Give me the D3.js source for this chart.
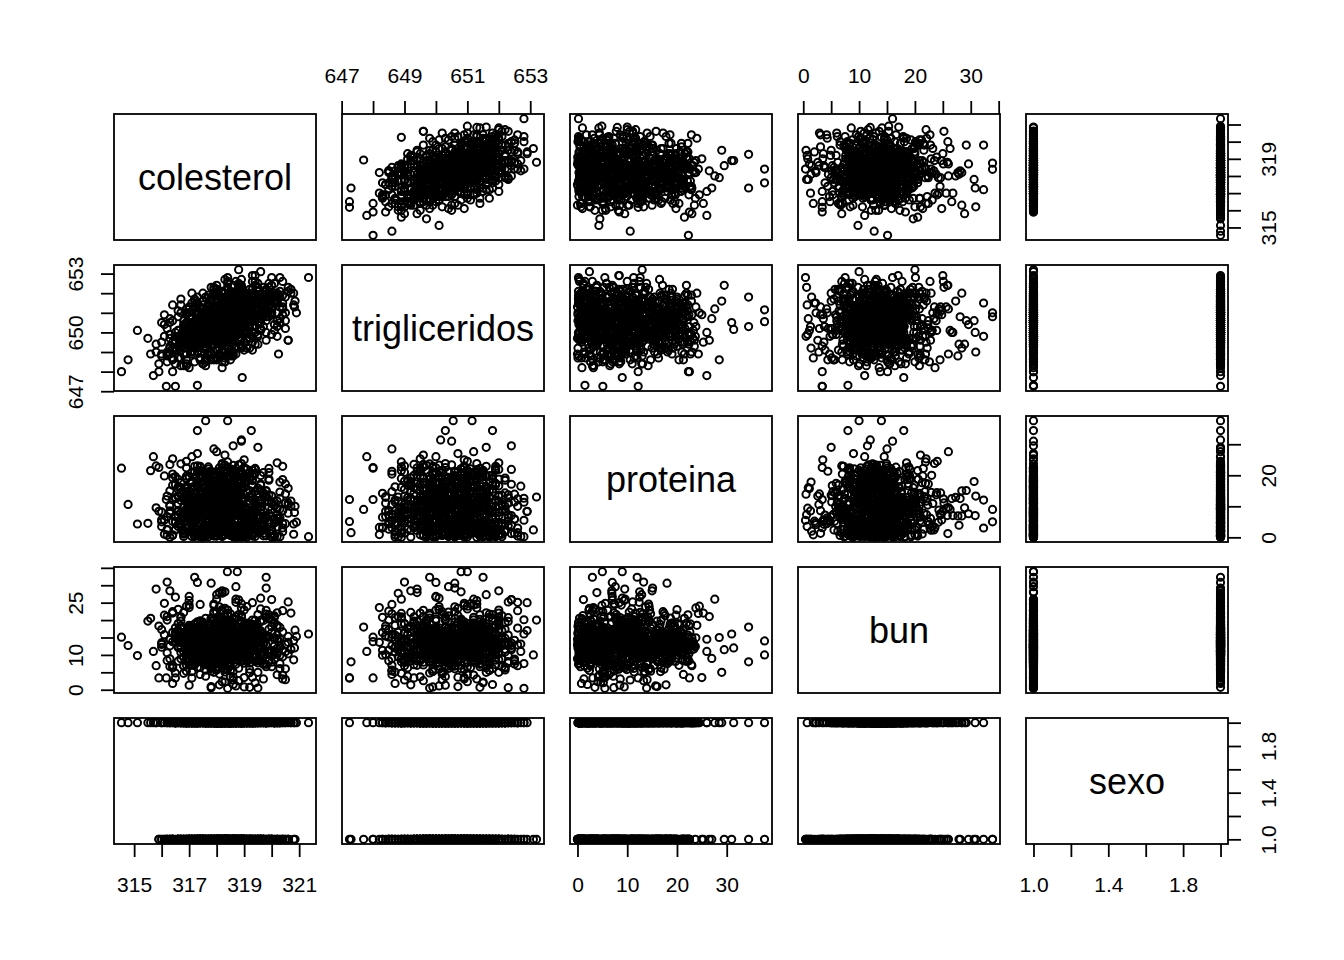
<!DOCTYPE html>
<html>
<head>
<meta charset="utf-8">
<script src="https://cdn.jsdelivr.net/npm/d3@7"></script>
<style>
  body { margin: 0; background: #fff; }
  svg text { font-family: "Liberation Sans", Arial, sans-serif; fill: #000; }
</style>
</head>
<body>
<svg id="chart" width="1344" height="960"></svg>
<script>
// one value per patient, same order in every array
const colesterol = [
  318.4, 317.6, 319.1, 318.0, 316.9, 318.8, 319.5, 317.2, 318.3, 320.1, 317.9, 318.6, 316.5, 319.3, 318.1, 317.4, 318.9, 319.8, 317.0, 318.5,
  317.8, 318.2, 319.6, 316.2, 318.7, 317.5, 320.4, 318.0, 317.1, 319.0, 318.4, 316.8, 319.4, 317.7, 318.9, 320.0, 317.3, 318.6, 319.2, 316.0,
  318.1, 319.7, 317.6, 318.3, 316.6, 318.9, 317.9, 320.6, 318.5, 317.2, 319.1, 318.0, 316.4, 319.9, 318.2, 317.5, 318.7, 319.4, 317.0, 318.4,
  317.3, 318.8, 319.3, 316.7, 318.0, 320.2, 317.8, 318.6, 315.9, 319.6, 318.3, 317.1, 318.9, 320.8, 317.6, 318.5, 316.3, 319.0, 318.1, 317.4,
  318.6, 317.0, 319.5, 318.2, 316.9, 318.7, 320.3, 317.7, 318.4, 319.2, 316.1, 318.0, 317.5, 319.8, 318.8, 317.2, 318.3, 320.5, 317.9, 318.9,
  317.4, 319.0, 318.1, 316.8, 319.7, 318.5, 317.3, 318.2, 320.0, 316.5, 318.7, 317.8, 319.3, 318.4, 317.1, 320.7, 318.0, 316.7, 319.5, 318.6,
  318.3, 317.6, 318.9, 316.2, 319.4, 317.9, 318.1, 320.2, 317.0, 318.6, 319.1, 316.9, 318.5, 317.5, 319.9, 318.2, 316.4, 318.8, 317.7, 319.6,
  318.0, 316.6, 319.2, 318.4, 317.3, 320.4, 318.7, 317.8, 315.8, 318.9, 317.5, 319.3, 318.1, 316.3, 320.1, 318.5, 317.2, 319.0, 318.3, 317.9,
  317.1, 318.6, 319.8, 317.4, 318.2, 316.7, 319.5, 318.0, 320.6, 317.6, 318.4, 316.0, 318.8, 319.2, 317.0, 318.3, 320.3, 317.7, 318.9, 316.8,
  318.5, 317.3, 319.0, 318.1, 316.5, 319.7, 318.7, 317.5, 320.0, 318.2, 316.9, 318.9, 317.8, 319.4, 318.0, 317.2, 320.9, 318.4, 316.3, 319.1,
  318.3, 317.0, 318.6, 319.5, 317.6, 318.1, 316.6, 319.9, 318.8, 317.4, 318.0, 320.4, 317.8, 319.2, 316.2, 318.5, 317.1, 319.6, 318.2, 317.9,
  318.7, 316.8, 319.3, 318.0, 317.5, 320.1, 318.4, 316.4, 319.0, 317.2, 318.9, 318.1, 317.7, 320.5, 318.3, 316.9, 319.4, 317.3, 318.6, 319.8,
  317.5, 318.2, 319.6, 316.7, 318.8, 317.9, 318.5, 320.2, 317.0, 319.1, 318.0, 316.1, 318.7, 317.6, 319.3, 318.4, 317.3, 320.7, 318.1, 316.6,
  318.9, 317.4, 318.3, 319.5, 316.9, 318.6, 317.8, 319.0, 318.2, 316.3, 319.8, 317.2, 318.5, 320.3, 317.6, 318.0, 319.2, 316.5, 318.7, 317.9,
  318.1, 319.4, 317.1, 318.7, 316.4, 320.0, 318.3, 317.5, 319.1, 318.9, 316.8, 318.0, 319.7, 317.3, 318.5, 320.6, 317.8, 318.2, 316.2, 319.3,
  317.7, 318.6, 316.7, 319.0, 318.1, 317.4, 319.6, 318.4, 316.0, 318.8, 317.0, 320.2, 318.3, 317.6, 319.2, 318.0, 316.5, 319.9, 317.9, 318.5,
  318.2, 317.3, 319.3, 316.6, 318.9, 317.8, 318.4, 320.1, 317.1, 318.7, 319.5, 316.9, 318.0, 317.5, 319.0, 318.6, 317.2, 320.4, 318.3, 316.4,
  318.8, 317.6, 319.1, 318.2, 316.3, 319.7, 318.5, 317.0, 320.0, 318.0, 316.8, 319.4, 317.7, 318.3, 320.8, 317.3, 318.9, 316.6, 319.2, 318.1,
  317.4, 318.6, 316.9, 319.0, 318.3, 317.8, 319.5, 318.1, 316.1, 318.7, 317.5, 320.3, 318.4, 317.1, 319.3, 318.0, 316.7, 319.8, 318.2, 317.9,
  318.5, 317.2, 319.2, 318.0, 316.5, 319.6, 318.8, 317.7, 320.5, 318.3, 316.9, 318.9, 317.4, 319.1, 318.1, 317.0, 320.1, 318.6, 316.2, 319.4,
  318.0, 317.6, 318.7, 319.9, 317.3, 318.4, 316.8, 319.3, 318.2, 317.9, 320.6, 318.6, 317.1, 318.9, 316.4, 319.0, 318.3, 317.5, 319.7, 318.1,
  318.5, 317.0, 319.4, 318.0, 316.7, 318.8, 317.7, 320.2, 318.3, 316.3, 319.1, 317.4, 318.6, 319.6, 317.8, 318.2, 316.0, 319.0, 317.2, 318.4,
  314.54, 314.78, 315.12, 315.5, 316.17, 316.5, 317.3, 315.7, 315.9, 321.34, 318.8, 319.3, 319.6, 320.25, 318.93, 317.6, 318.4, 317.3, 319.26, 318.9,
  318.9, 318.39, 318.75, 317.2, 317.3, 319.8, 316.3, 317.8, 320.85, 320.83, 320.5, 316.4, 317.1, 317.3, 318.0, 315.6, 315.8, 319.5, 318.6, 317.9,
  319.0, 316.9, 318.3, 320.2,
  318.2, 317.7, 318.9, 318.4, 317.3, 318.6, 319.2, 317.9, 318.1, 319.6, 317.5, 318.3, 317.0, 318.8, 318.5, 317.8, 319.0, 318.0, 317.4, 318.7,
  318.3, 317.6, 319.4, 316.9, 318.9, 318.1, 319.9, 317.8, 317.2, 318.5, 318.7, 317.1, 319.1, 318.0, 318.4, 319.5, 317.6, 318.2, 318.8, 316.6,
  317.9, 319.3, 318.0, 318.6, 317.4, 318.2, 317.7, 320.1, 318.4, 317.3, 318.8, 317.9, 316.8, 319.4, 318.5, 317.5, 318.1, 319.0, 317.8, 318.3,
  317.6, 318.7, 319.1, 317.1, 318.2, 319.7, 317.9, 318.5, 316.5, 319.2, 318.0, 317.4, 318.6, 320.3, 317.7, 318.3, 316.9, 318.9, 318.1, 317.6,
  318.5, 317.3, 319.3, 318.0, 317.2, 318.6, 319.8, 317.8, 318.2, 318.9, 316.7, 318.1, 317.6, 319.5, 318.7, 317.4, 318.4, 320.0, 317.9, 318.8,
  317.7, 318.9, 318.3, 317.0, 319.3, 318.4, 317.5, 318.1, 319.6, 316.9, 318.6, 317.8, 319.0, 318.2, 317.3, 320.2, 318.0, 317.1, 319.2, 318.5,
  318.1, 317.5, 318.7, 316.7, 319.1, 318.0, 318.2, 319.8, 317.4, 318.5, 318.9, 317.2, 318.4, 317.7, 319.4, 318.3, 316.8, 318.6, 317.9, 319.3,
  318.2, 317.0, 319.0, 318.6, 317.6, 320.0, 318.5, 317.9, 316.4, 318.7, 317.7, 319.1, 318.3, 316.9, 319.7, 318.4, 317.4, 318.8, 318.0, 318.1,
  317.4, 318.5, 319.5, 317.6, 318.3, 317.1, 319.2, 318.2, 320.1, 317.8, 318.6, 316.6, 318.7, 319.0, 317.3, 318.1, 319.9, 317.9, 318.8, 317.2,
  318.4, 317.5, 318.9, 318.2, 316.9, 319.4, 318.6, 317.7, 319.7, 318.0, 317.1, 318.7, 317.9, 319.1, 318.2, 317.4, 320.4, 318.3, 316.8, 318.9,
  318.0, 317.3, 318.5, 319.2, 317.8, 318.3, 317.0, 319.6, 318.7, 317.6, 318.1, 320.0, 317.9, 319.0, 316.7, 318.4, 317.4, 319.3, 318.2, 318.0,
  318.6, 317.2, 319.0, 318.1, 317.7, 319.8, 318.3, 316.9, 318.8, 317.5, 318.7, 318.2, 317.8, 320.1, 318.4, 317.1, 319.2, 317.6, 318.5, 319.5,
  317.8, 318.3, 319.3, 317.0, 318.7, 318.0, 318.4, 319.9, 317.3, 318.9, 318.1, 316.6, 318.6, 317.7, 319.1, 318.5, 317.5, 320.3, 318.2, 317.0,
  318.7, 317.6, 318.2, 319.2, 317.2, 318.5, 317.9, 318.8, 318.3, 316.8, 319.5, 317.4, 318.4, 319.9, 317.8, 318.1, 319.0, 317.0, 318.6, 318.0,
  318.2, 319.1, 317.4, 318.6, 316.9, 319.7, 318.4, 317.7, 318.9, 318.7, 317.2, 318.1, 319.4, 317.5, 318.5, 320.2, 317.9, 318.3, 316.7, 319.0,
  317.9, 318.5, 317.1, 318.8, 318.2, 317.6, 319.3, 318.3, 316.5, 318.7, 317.3, 319.8, 318.4, 317.8, 318.9, 318.1, 317.0, 319.6, 318.0, 318.6,
  318.3, 317.5, 319.0, 317.1, 318.8, 317.9, 318.5, 319.7, 317.4, 318.6, 319.2, 317.2, 318.1, 317.7, 318.9, 318.4, 317.3, 320.0, 318.2, 316.9,
  318.6, 317.8, 318.9, 318.3, 316.8, 319.4, 318.5, 317.3, 319.8, 318.1, 317.1, 319.1, 317.9, 318.2, 320.4, 317.6, 318.7, 317.0, 318.9, 318.3,
  317.6, 318.4, 317.2, 318.9, 318.2, 317.9, 319.2, 318.0, 316.7, 318.5, 317.7, 319.9, 318.3, 317.4, 319.0, 318.1, 317.0, 319.5, 318.4, 317.8,
  318.4, 317.3, 319.0, 318.1, 316.9, 319.3, 318.7, 317.9, 320.1, 318.2, 317.1, 318.6, 317.6, 318.9, 318.0, 317.2, 319.6, 318.5, 316.6, 319.2
];

const trigliceridos = [
  650.8, 650.1, 651.3, 649.6, 649.9, 651.0, 651.8, 650.4, 649.8, 651.6, 650.9, 650.2, 649.1, 650.7, 651.2, 649.4, 650.5, 652.1, 650.0, 651.5,
  649.3, 650.6, 650.9, 648.8, 651.7, 650.7, 651.2, 651.1, 649.0, 652.0, 650.0, 650.3, 651.5, 648.9, 649.7, 652.4, 651.0, 651.9, 649.9, 649.5,
  651.4, 650.3, 649.6, 650.9, 650.8, 649.2, 651.6, 652.3, 649.1, 651.3, 650.6, 648.7, 648.6, 651.1, 652.0, 650.5, 650.1, 652.6, 649.3, 650.0,
  650.2, 652.2, 649.8, 649.6, 650.4, 650.6, 651.8, 649.5, 648.4, 651.9, 651.6, 648.9, 651.1, 651.4, 650.0, 650.7, 649.3, 649.9, 648.8, 651.2,
  650.9, 651.0, 652.5, 649.0, 648.3, 650.4, 652.8, 650.8, 651.8, 650.2, 649.8, 651.5, 649.7, 650.0, 649.6, 648.5, 650.7, 651.0, 649.4, 652.3,
  651.3, 651.4, 648.9, 650.6, 650.8, 649.7, 649.0, 652.1, 651.0, 650.0, 651.3, 648.6, 652.0, 650.1, 650.5, 652.0, 651.7, 648.7, 649.8, 650.6,
  649.5, 649.9, 651.7, 650.2, 649.4, 652.2, 650.2, 650.3, 648.2, 651.4, 651.9, 649.6, 648.9, 651.4, 651.3, 651.0, 648.0, 652.4, 648.8, 651.5,
  650.5, 648.7, 650.4, 652.3, 651.1, 651.5, 649.3, 650.6, 649.4, 651.0, 648.4, 652.6, 649.2, 649.7, 650.4, 651.2, 649.2, 649.5, 651.6, 652.0,
  650.0, 649.6, 651.6, 650.8, 648.5, 651.0, 650.5, 651.9, 652.1, 649.1, 652.2, 648.9, 651.8, 649.2, 651.2, 650.9, 651.8, 650.3, 652.7, 650.4,
  649.0, 651.5, 649.1, 651.4, 649.5, 650.9, 650.0, 652.0, 649.9, 648.8, 648.6, 651.3, 650.7, 652.9, 650.3, 649.8, 651.0, 648.9, 650.5, 650.7,
  652.0, 649.5, 651.1, 649.9, 648.6, 649.9, 650.1, 652.5, 652.3, 648.7, 651.3, 650.9, 651.7, 651.2, 648.5, 649.9, 650.8, 650.1, 649.3, 649.7,
  651.9, 649.4, 651.5, 648.6, 651.6, 652.0, 650.3, 649.1, 650.0, 651.7, 649.4, 650.6, 649.0, 651.8, 651.5, 651.2, 652.4, 650.9, 648.8, 650.6,
  649.7, 652.1, 650.7, 651.4, 650.2, 651.2, 648.8, 651.0, 649.4, 651.1, 649.1, 650.4, 652.6, 648.3, 650.3, 650.1, 651.4, 652.2, 648.9, 649.8,
  649.3, 650.4, 651.8, 652.1, 648.4, 650.0, 652.3, 649.5, 650.6, 650.7, 649.6, 651.6, 652.1, 650.5, 648.7, 651.6, 651.1, 649.8, 651.6, 650.2,
  650.8, 650.0, 652.0, 649.2, 651.4, 652.8, 648.5, 649.4, 651.7, 652.4, 649.2, 649.7, 651.3, 650.6, 652.0, 649.6, 651.2, 648.2, 649.0, 651.8,
  651.3, 648.9, 651.7, 650.8, 649.6, 648.6, 650.2, 652.5, 650.5, 651.1, 650.3, 649.8, 650.5, 651.8, 649.7, 652.2, 649.2, 651.9, 648.7, 650.3,
  649.1, 651.8, 649.5, 650.1, 652.1, 649.0, 651.4, 650.1, 651.5, 648.9, 652.3, 651.0, 650.8, 648.4, 650.4, 649.9, 649.7, 652.6, 650.9, 648.7,
  651.5, 651.1, 649.2, 649.6, 649.9, 652.3, 648.6, 649.8, 651.2, 652.4, 648.9, 650.3, 651.9, 650.8, 652.0, 650.9, 649.3, 651.1, 651.4, 650.0,
  648.7, 650.7, 650.9, 651.3, 652.7, 650.6, 649.4, 648.8, 650.9, 652.1, 651.6, 650.7, 649.5, 649.3, 652.2, 650.4, 648.3, 650.8, 651.4, 651.9,
  650.1, 649.7, 652.2, 650.5, 648.4, 651.0, 651.7, 651.4, 650.6, 649.0, 650.5, 652.2, 648.6, 649.7, 651.9, 651.3, 652.5, 649.4, 648.9, 650.3,
  651.7, 648.5, 649.8, 651.7, 650.9, 652.6, 648.3, 649.1, 650.3, 652.3, 649.6, 651.8, 649.6, 650.9, 650.6, 652.0, 648.7, 650.2, 651.0, 649.4,
  650.6, 650.8, 650.8, 652.2, 649.3, 652.5, 651.1, 651.9, 648.5, 648.9, 650.1, 650.3, 649.0, 650.5, 651.6, 651.0, 648.8, 651.4, 649.5, 652.8,
  648.0, 648.6, 650.1, 649.7, 647.25, 647.25, 647.3, 647.8, 648.0, 652.8, 653.2, 652.9, 653.1, 648.9, 647.7, 650.55, 651.15, 650.3, 651.8, 650.15,
  650.5, 650.8, 651.0, 649.8, 650.0, 651.5, 649.2, 650.6, 651.6, 651.3, 650.2, 649.5, 650.0, 650.7, 651.2, 648.9, 649.0, 651.6, 652.4, 648.6,
  650.9, 651.0, 649.6, 652.0,
  650.6, 649.9, 651.2, 651.0, 649.6, 650.4, 651.5, 650.5, 649.9, 651.3, 650.6, 650.1, 649.3, 651.4, 650.9, 649.8, 650.7, 651.1, 650.3, 650.0,
  650.3, 650.8, 651.6, 649.4, 650.2, 651.3, 652.0, 649.6, 650.1, 651.7, 649.9, 649.0, 651.0, 650.0, 650.7, 651.2, 649.3, 651.6, 650.5, 649.7,
  650.9, 650.6, 649.5, 651.1, 650.0, 650.4, 651.2, 651.8, 649.8, 649.2, 651.5, 650.2, 648.9, 651.9, 650.3, 650.7, 651.0, 650.1, 649.4, 650.8,
  650.1, 651.0, 650.5, 649.5, 650.9, 651.4, 649.7, 650.2, 649.1, 651.7, 650.4, 649.8, 651.2, 652.1, 650.6, 649.9, 649.6, 651.3, 650.7, 649.2,
  650.8, 650.3, 651.1, 649.7, 649.0, 651.3, 652.2, 650.4, 650.9, 650.5, 649.3, 650.0, 650.6, 651.6, 649.8, 649.6, 651.2, 650.9, 651.3, 651.0,
  650.6, 650.4, 651.5, 649.8, 651.9, 650.0, 650.1, 650.7, 651.4, 648.9, 650.9, 649.7, 651.2, 650.3, 649.5, 651.5, 650.8, 650.2, 650.7, 651.8,
  650.2, 650.9, 650.5, 649.1, 651.4, 650.6, 649.7, 651.7, 649.9, 651.0, 650.4, 650.3, 651.3, 649.4, 650.8, 650.1, 650.0, 651.6, 650.6, 652.0,
  651.2, 649.6, 650.3, 650.8, 650.4, 651.0, 651.9, 649.8, 649.2, 650.6, 651.1, 651.4, 649.6, 649.9, 651.7, 650.0, 649.5, 652.1, 650.9, 650.2,
  649.7, 650.8, 651.3, 650.6, 650.0, 649.4, 650.9, 651.6, 651.5, 650.2, 649.7, 649.3, 650.7, 651.8, 650.4, 651.0, 652.3, 649.9, 651.1, 650.5,
  650.9, 650.1, 650.6, 649.5, 650.2, 651.5, 651.3, 649.9, 651.0, 650.7, 649.8, 650.3, 651.2, 650.0, 651.6, 650.5, 651.9, 649.6, 649.9, 651.8,
  651.2, 649.9, 650.2, 651.0, 650.6, 649.7, 650.0, 651.8, 650.8, 649.5, 650.5, 651.3, 651.1, 650.3, 649.6, 651.4, 650.6, 650.9, 650.1, 649.8,
  650.7, 650.4, 651.4, 650.9, 649.5, 651.6, 649.9, 650.1, 651.2, 650.8, 650.3, 649.6, 650.6, 651.5, 651.0, 649.3, 651.7, 650.0, 650.2, 651.1,
  650.4, 651.1, 650.7, 650.3, 650.0, 649.9, 651.5, 651.4, 649.6, 651.0, 650.7, 649.8, 649.9, 650.9, 652.0, 650.6, 649.5, 651.3, 651.0, 650.0,
  650.1, 650.5, 650.8, 651.7, 649.8, 651.3, 650.9, 650.4, 650.2, 650.1, 651.5, 649.6, 651.1, 650.8, 650.3, 650.6, 651.9, 649.5, 650.7, 650.4,
  649.9, 650.9, 650.6, 651.2, 649.7, 651.4, 650.1, 650.5, 652.0, 650.3, 649.4, 651.0, 650.6, 650.7, 651.3, 651.6, 649.8, 650.2, 649.8, 651.1,
  650.6, 649.8, 650.3, 651.5, 650.9, 650.1, 651.0, 649.7, 649.6, 651.3, 650.6, 651.2, 650.4, 649.9, 650.5, 651.1, 650.0, 651.7, 650.8, 650.3,
  651.0, 650.4, 650.0, 650.7, 651.3, 649.7, 650.2, 651.4, 650.6, 651.6, 650.8, 649.5, 650.7, 651.0, 650.1, 649.9, 650.3, 651.9, 650.5, 649.8,
  650.3, 651.1, 651.6, 649.9, 650.2, 650.8, 651.4, 649.6, 651.8, 650.5, 650.0, 651.2, 649.8, 651.0, 651.3, 650.7, 650.4, 649.7, 651.5, 650.9,
  650.8, 649.9, 649.8, 651.0, 651.4, 650.6, 650.9, 650.1, 649.5, 651.2, 650.4, 651.3, 649.9, 650.3, 651.6, 650.2, 650.5, 651.1, 650.0, 650.7,
  650.5, 650.2, 651.3, 649.8, 650.0, 651.0, 650.6, 651.2, 651.7, 650.9, 649.6, 650.7, 650.5, 651.5, 650.1, 649.9, 651.4, 650.8, 649.7, 650.4
];

const proteina = [
  6.2, 11.4, 3.8, 0.4, 14.7, 8.1, 2.6, 19.3, 7.5, 10.2, 4.9, 0.9, 12.8, 5.6, 16.4, 9.3, 1.7, 13.5, 7.0, 21.6,
  3.1, 8.8, 15.2, 6.7, 0.2, 11.9, 4.4, 9.6, 18.1, 2.3, 7.9, 13.1, 5.2, 22.7, 10.6, 1.2, 6.4, 16.9, 8.3, 3.5,
  12.3, 4.7, 0.6, 9.9, 7.2, 17.5, 2.9, 11.1, 5.8, 14.2, 0.1, 8.6, 20.4, 3.3, 6.9, 10.8, 15.7, 1.5, 9.1, 5.0,
  7.7, 2.0, 13.8, 6.0, 10.4, 0.3, 18.8, 4.2, 8.4, 12.0, 3.6, 16.1, 7.3, 1.0, 11.6, 5.4, 23.5, 9.4, 2.7, 14.9,
  0.8, 9.7, 5.9, 15.5, 3.0, 7.6, 12.6, 1.9, 10.0, 6.6, 19.8, 4.0, 8.9, 0.5, 13.3, 7.1, 2.4, 17.2, 11.3, 5.3,
  10.9, 4.5, 8.0, 1.4, 14.4, 6.1, 21.0, 3.7, 9.0, 12.5, 0.0, 7.4, 16.6, 5.1, 2.2, 11.7, 8.7, 4.6, 13.9, 6.8,
  2.8, 13.0, 7.8, 0.7, 10.3, 18.4, 5.5, 9.2, 3.2, 15.0, 6.3, 11.5, 1.3, 8.2, 20.9, 4.1, 12.2, 7.0, 0.2, 9.8,
  5.7, 16.3, 3.4, 11.0, 7.9, 1.8, 14.1, 6.5, 9.5, 2.5, 12.9, 0.4, 17.8, 8.5, 4.8, 10.7, 6.2, 22.1, 3.9, 13.6,
  9.1, 0.9, 6.6, 12.4, 4.3, 8.0, 15.9, 2.1, 10.5, 7.2, 19.1, 5.0, 1.1, 11.8, 8.8, 3.6, 14.6, 6.0, 0.3, 9.9,
  4.6, 11.2, 7.5, 2.9, 17.0, 5.8, 9.4, 0.6, 13.4, 6.9, 3.1, 10.1, 16.0, 8.3, 1.6, 12.7, 4.9, 24.3, 7.7, 2.0,
  13.2, 6.4, 1.2, 9.6, 5.2, 15.3, 3.5, 11.4, 7.1, 0.1, 18.6, 8.6, 4.4, 10.9, 2.6, 14.0, 6.7, 9.0, 20.0, 3.8,
  8.1, 2.2, 12.1, 5.5, 0.5, 10.2, 7.4, 16.8, 3.0, 9.3, 6.0, 13.7, 1.4, 11.1, 4.7, 8.9, 21.9, 2.8, 7.6, 15.1,
  0.0, 10.6, 4.0, 14.5, 7.8, 2.4, 11.7, 6.3, 19.5, 5.3, 9.7, 1.0, 12.4, 3.3, 8.4, 17.4, 0.7, 10.0, 6.5, 4.2,
  11.9, 5.6, 8.7, 3.7, 13.1, 0.2, 7.3, 16.2, 2.0, 10.4, 6.1, 22.9, 4.5, 9.1, 1.7, 12.9, 7.9, 5.0, 15.6, 3.2,
  6.8, 14.8, 2.5, 9.5, 0.6, 11.3, 5.1, 8.2, 18.0, 3.9, 12.6, 7.0, 1.3, 10.7, 4.8, 15.8, 8.0, 0.9, 13.3, 6.2,
  2.7, 9.0, 17.6, 4.1, 11.6, 7.5, 1.9, 13.9, 5.7, 20.6, 8.5, 3.4, 10.3, 0.4, 6.6, 14.3, 2.3, 9.8, 12.0, 5.4,
  10.5, 3.6, 7.2, 15.4, 1.1, 8.8, 12.3, 4.6, 0.3, 9.6, 6.4, 18.9, 2.9, 11.0, 5.9, 16.7, 7.7, 3.0, 13.5, 0.8,
  7.4, 12.8, 0.1, 6.0, 10.1, 3.8, 14.7, 8.1, 2.2, 17.1, 5.2, 9.3, 1.5, 12.5, 4.3, 23.0, 6.9, 10.8, 3.5, 8.6,
  4.0, 0.7, 11.5, 7.6, 16.5, 2.6, 9.2, 13.0, 5.6, 1.0, 19.7, 6.3, 10.4, 3.1, 8.3, 0.5, 14.2, 7.0, 11.8, 4.9,
  9.7, 5.3, 2.1, 13.6, 6.7, 10.9, 0.2, 15.2, 4.4, 8.0, 12.2, 1.8, 21.3, 7.1, 3.7, 9.4, 5.8, 17.9, 2.4, 11.2,
  1.6, 8.4, 14.1, 4.7, 0.6, 10.0, 6.5, 18.3, 3.2, 12.7, 7.8, 2.0, 9.9, 15.9, 5.1, 0.9, 11.4, 6.1, 13.8, 3.9,
  12.6, 7.0, 3.3, 9.1, 16.0, 1.2, 5.9, 11.7, 8.7, 0.0, 14.4, 4.1, 10.6, 6.8, 2.7, 20.2, 8.2, 0.4, 13.0, 5.5,
  22.3, 10.6, 4.3, 4.5, 12.2, 5.1, 1.5, 26.0, 22.5, 0.2, 13.0, 8.4, 2.4, 6.0, 9.0, 37.6, 37.6, 34.4, 34.4, 31.4,
  31.0, 9.0, 5.0, 12.0, 7.0, 3.0, 15.0, 18.0, 10.0, 8.0, 14.0, 25.3, 26.0, 27.0, 27.6, 21.5, 23.0, 29.0, 29.5, 28.5,
  25.0, 24.5, 26.5, 24.0,
  5.4, 17.8, 2.7, 21.3, 12.1, 4.0, 19.6, 1.2, 10.5, 15.1, 14.3, 23.3, 7.9, 0.5, 11.2, 18.7, 9.1, 2.0, 13.0, 20.8,
  16.2, 3.6, 11.8, 22.4, 1.8, 9.4, 18.8, 15.1, 7.0, 2.4, 20.3, 5.2, 0.8, 12.7, 17.6, 3.9, 9.9, 16.4, 23.4, 8.7,
  2.1, 19.7, 6.9, 14.3, 13.6, 0.3, 21.0, 5.9, 11.5, 17.0, 7.4, 17.2, 1.5, 22.2, 6.2, 12.4, 18.7, 0.9, 10.1, 15.7,
  11.0, 20.0, 1.0, 8.4, 16.6, 14.0, 3.4, 21.6, 2.6, 12.9, 18.1, 4.1, 10.8, 0.2, 19.9, 5.5, 15.7, 23.8, 6.5, 16.6,
  7.5, 12.5, 18.6, 0.6, 9.7, 20.0, 2.3, 11.3, 16.1, 18.5, 5.3, 22.4, 13.8, 7.2, 3.5, 19.0, 6.7, 0.1, 14.3, 21.2,
  3.2, 16.5, 14.7, 5.8, 21.6, 1.1, 17.8, 4.5, 12.0, 19.0, 0.7, 6.3, 16.0, 23.8, 11.6, 5.1, 18.3, 13.4, 3.7, 20.0,
  9.5, 2.5, 19.4, 11.9, 4.9, 17.8, 0.4, 13.1, 22.9, 3.1, 10.4, 16.6, 1.9, 15.4, 20.6, 9.8, 2.2, 12.3, 18.3, 0.9,
  16.1, 13.3, 3.0, 20.0, 1.3, 10.9, 17.4, 7.4, 19.2, 2.7, 22.1, 4.8, 11.7, 15.6, 0.5, 14.5, 21.6, 8.6, 10.2, 18.9,
  1.7, 17.1, 10.0, 21.0, 12.6, 6.8, 18.9, 9.5, 0.2, 15.9, 23.2, 8.3, 3.3, 19.0, 7.7, 1.0, 13.7, 20.6, 16.3, 9.2,
  12.2, 19.4, 8.9, 0.8, 16.2, 10.7, 21.8, 14.1, 5.5, 17.9, 1.6, 11.4, 20.0, 2.4, 9.6, 17.8, 22.9, 8.2, 0.3, 15.5,
  4.7, 18.3, 1.9, 13.2, 21.3, 3.4, 11.1, 16.8, 0.6, 19.7, 16.6, 2.6, 10.3, 22.5, 4.1, 12.8, 17.8, 1.2, 20.0, 15.0,
  18.4, 0.4, 6.7, 10.8, 21.1, 14.9, 5.3, 19.7, 2.0, 17.2, 12.0, 23.5, 0.9, 11.5, 16.4, 3.7, 8.1, 20.8, 15.6, 1.5,
  10.1, 16.0, 3.5, 19.6, 13.9, 1.8, 17.5, 22.2, 11.8, 0.1, 9.4, 18.7, 15.3, 2.9, 21.9, 10.4, 3.0, 17.8, 12.5, 14.8,
  2.3, 11.6, 19.0, 15.1, 0.7, 20.9, 4.3, 13.5, 16.6, 8.2, 1.4, 22.6, 18.9, 7.6, 18.0, 5.4, 0.5, 12.1, 21.2, 9.0,
  17.8, 3.2, 12.4, 20.1, 9.2, 2.5, 14.6, 18.9, 8.0, 1.1, 21.2, 16.8, 0.3, 11.3, 19.0, 7.3, 16.9, 3.6, 23.7, 2.0,
  15.6, 10.9, 1.6, 18.5, 22.4, 12.7, 7.1, 0.8, 19.6, 3.3, 16.4, 13.0, 2.7, 21.1, 17.9, 4.7, 11.2, 19.9, 8.3, 15.6,
  9.8, 21.0, 17.4, 2.1, 11.4, 15.9, 0.6, 20.9, 14.2, 3.9, 18.7, 10.5, 1.3, 17.0, 12.3, 22.5, 9.1, 0.2, 19.3, 8.0,
  3.8, 18.1, 13.6, 16.3, 1.0, 22.0, 4.8, 17.7, 2.4, 11.9, 20.8, 9.3, 17.4, 3.0, 18.6, 6.0, 0.9, 12.6, 21.2, 10.8,
  11.1, 16.5, 2.8, 19.4, 15.2, 0.4, 13.3, 21.2, 4.0, 10.3, 1.7, 18.4, 16.1, 15.0, 3.4, 20.9, 5.7, 11.8, 2.2, 17.5,
  16.9, 1.2, 19.6, 4.6, 12.9, 21.6, 3.1, 10.7, 0.7, 18.8, 15.4, 14.4, 2.5, 20.3, 11.0, 0.3, 17.2, 22.1, 13.1, 5.9
];

const bun = [
  13.2, 9.1, 18.6, 10.7, 5.3, 16.4, 21.6, 12.4, 7.9, 15.0, 24.2, 10.0, 17.8, 3.6, 13.8, 19.6, 11.8, 6.6, 26.8, 14.3,
  9.9, 15.8, 12.6, 21.0, 7.3, 14.0, 4.2, 17.2, 11.1, 22.9, 8.6, 15.3, 2.0, 18.9, 12.1, 25.9, 10.4, 16.1, 5.9, 13.5,
  20.2, 10.9, 14.6, 5.8, 17.0, 8.3, 12.9, 25.2, 15.9, 9.4, 13.7, 20.7, 7.0, 15.2, 28.4, 11.3, 1.1, 17.7, 12.5, 8.8,
  14.8, 6.2, 16.8, 12.1, 22.3, 10.2, 13.1, 3.7, 18.3, 10.6, 15.5, 8.0, 24.7, 14.1, 9.2, 19.3, 12.6, 0.8, 16.5, 9.6,
  11.9, 17.9, 8.4, 14.2, 11.3, 29.6, 7.5, 15.9, 13.4, 4.9, 21.4, 10.3, 17.5, 12.8, 2.6, 15.1, 23.4, 10.9, 16.7, 8.1,
  17.2, 9.8, 13.6, 6.9, 19.9, 12.2, 16.2, 8.9, 11.0, 26.6, 14.5, 5.4, 18.8, 9.7, 13.0, 22.0, 7.4, 15.7, 0.5, 12.7,
  11.5, 15.0, 20.8, 8.4, 13.2, 17.4, 4.5, 11.9, 23.6, 10.1, 15.6, 7.1, 14.0, 18.6, 10.6, 2.3, 13.8, 25.8, 12.4, 16.9,
  8.7, 14.1, 12.0, 19.6, 6.4, 16.6, 10.8, 15.2, 28.9, 9.5, 17.5, 12.9, 1.4, 14.5, 21.2, 7.9, 13.4, 11.3, 18.1, 5.0,
  15.8, 12.5, 7.3, 14.9, 22.6, 10.7, 17.2, 8.5, 13.6, 3.9, 19.2, 12.2, 16.3, 10.2, 24.3, 14.1, 6.1, 17.8, 11.0, 14.3,
  13.0, 18.9, 10.5, 12.3, 16.0, 7.7, 20.3, 14.7, 11.2, 27.7, 9.0, 13.6, 0.9, 17.0, 12.6, 9.9, 15.3, 21.9, 6.7, 15.5,
  10.4, 15.1, 17.9, 11.8, 5.6, 13.3, 23.1, 8.2, 15.7, 12.0, 18.6, 3.1, 14.4, 9.8, 20.0, 13.1, 7.0, 26.3, 11.5, 16.5,
  18.2, 9.3, 12.8, 15.9, 10.1, 20.8, 13.9, 6.3, 16.7, 11.1, 14.8, 23.8, 7.8, 13.0, 2.2, 16.2, 12.0, 19.5, 9.5, 29.2,
  12.9, 16.9, 8.1, 13.5, 21.6, 10.5, 15.1, 4.3, 18.5, 12.4, 8.9, 15.8, 25.1, 9.9, 14.0, 5.9, 17.4, 11.6, 20.9, 14.1,
  11.2, 13.8, 19.8, 8.8, 15.4, 12.6, 0.6, 17.1, 10.2, 14.5, 22.8, 7.2, 13.1, 17.9, 10.8, 27.3, 12.2, 4.8, 16.0, 8.6,
  15.0, 9.6, 17.3, 13.2, 6.6, 20.1, 11.4, 15.6, 8.2, 12.7, 22.2, 14.1, 3.1, 17.6, 12.0, 10.3, 18.9, 13.6, 30.9, 11.1,
  16.4, 12.3, 8.9, 15.3, 11.6, 24.5, 14.1, 7.4, 17.3, 10.4, 1.3, 15.7, 12.5, 20.5, 13.7, 5.7, 14.7, 10.7, 18.5, 3.8,
  9.4, 16.8, 13.3, 12.1, 21.3, 8.4, 15.9, 11.0, 15.0, 26.0, 7.7, 13.0, 18.7, 10.1, 16.6, 5.2, 12.8, 22.7, 14.3, 1.8,
  13.9, 10.7, 18.2, 7.9, 14.6, 12.9, 21.8, 16.2, 9.7, 13.4, 4.7, 16.9, 11.7, 28.1, 8.6, 14.9, 19.3, 12.4, 0.7, 15.8,
  12.2, 19.4, 10.0, 16.5, 13.1, 6.8, 17.7, 11.4, 24.8, 14.4, 8.1, 12.6, 18.2, 3.4, 13.6, 9.6, 20.8, 15.4, 11.1, 7.2,
  17.8, 14.0, 10.8, 9.2, 15.5, 23.2, 12.0, 14.8, 6.0, 19.0, 10.3, 13.2, 4.4, 16.9, 12.7, 25.6, 8.8, 15.2, 10.6, 19.9,
  14.2, 8.3, 13.7, 17.4, 11.0, 6.9, 16.4, 12.3, 20.4, 9.8, 15.3, 1.5, 18.4, 12.8, 22.4, 13.3, 5.1, 15.9, 10.2, 27.9,
  11.3, 16.7, 12.7, 6.5, 19.7, 14.2, 9.6, 14.6, 17.2, 8.9, 23.9, 12.1, 2.8, 16.2, 10.9, 19.0, 13.0, 7.6, 15.1, 0.4,
  15.1, 12.7, 9.8, 19.7, 3.4, 3.4, 8.0, 11.0, 3.4, 16.0, 20.0, 25.0, 10.0, 14.0, 18.0, 14.0, 10.0, 8.0, 18.0, 12.0,
  16.0, 33.9, 33.9, 32.3, 30.8, 32.3, 28.4, 30.6, 17.1, 12.0, 2.9, 22.0, 14.5, 9.0, 26.0, 20.5, 6.9, 5.0, 11.5, 15.0,
  3.5, 24.0, 21.0, 18.5,
  12.4, 15.6, 9.3, 13.8, 17.9, 10.6, 14.2, 7.8, 16.3, 11.5, 19.4, 13.1, 8.9, 15.0, 12.0, 20.6, 10.2, 14.7, 6.4, 16.8,
  14.5, 11.0, 17.2, 8.3, 13.4, 15.9, 10.8, 18.7, 12.7, 5.5, 14.1, 16.5, 9.7, 12.2, 21.3, 13.6, 7.2, 15.4, 11.7, 19.0,
  10.4, 16.1, 13.0, 11.9, 19.8, 8.6, 14.9, 12.5, 17.6, 9.5, 13.3, 22.4, 10.9, 15.7, 6.9, 14.0, 18.2, 11.3, 16.6, 12.9,
  17.0, 12.1, 8.1, 15.2, 11.4, 14.4, 20.2, 10.0, 13.7, 16.9, 7.5, 12.8, 18.4, 14.6, 9.2, 11.8, 15.5, 23.5, 13.2, 10.7,
  13.9, 9.0, 16.0, 12.6, 18.9, 11.1, 14.8, 6.1, 15.8, 12.3, 20.9, 10.3, 13.5, 17.3, 8.8, 14.3, 11.6, 16.4, 24.6, 12.0,
  11.2, 17.7, 14.0, 9.8, 12.9, 15.3, 7.7, 13.6, 19.5, 10.5, 16.2, 12.4, 8.4, 14.9, 11.7, 18.0, 13.1, 5.2, 15.6, 10.9,
  15.1, 10.1, 12.8, 17.5, 8.7, 14.6, 11.3, 21.7, 13.2, 9.6, 16.7, 12.0, 14.3, 7.0, 18.6, 11.9, 15.9, 13.4, 10.2, 20.0,
  12.7, 14.9, 18.1, 11.5, 15.7, 6.6, 13.9, 10.6, 16.5, 12.2, 9.1, 17.8, 14.1, 11.0, 13.5, 22.9, 8.3, 15.0, 12.6, 16.2,
  9.9, 13.2, 15.4, 12.0, 7.4, 16.8, 11.8, 14.5, 19.3, 10.7, 13.8, 17.1, 8.6, 12.9, 15.2, 11.2, 20.7, 14.0, 9.3, 13.0,
  16.6, 11.6, 13.5, 9.0, 14.7, 18.5, 12.3, 8.0, 15.5, 13.1, 10.4, 21.0, 14.4, 12.1, 6.3, 16.1, 11.4, 17.7, 13.7, 10.0,
  13.3, 17.4, 10.9, 15.8, 12.5, 9.4, 14.2, 19.9, 11.9, 13.0, 16.4, 7.9, 15.1, 12.8, 18.3, 10.6, 14.6, 11.1, 23.0, 13.9,
  10.8, 14.0, 16.9, 12.7, 8.5, 15.6, 13.2, 11.3, 17.9, 14.8, 9.7, 12.4, 20.4, 10.1, 15.3, 13.6, 7.6, 16.3, 12.9, 14.5,
  15.4, 12.2, 9.6, 14.1, 11.0, 17.0, 13.8, 21.5, 10.4, 16.0, 12.6, 8.2, 14.9, 11.7, 19.1, 13.4, 15.8, 9.9, 12.1, 17.6,
  11.4, 16.3, 13.1, 8.9, 15.0, 12.3, 18.8, 10.7, 14.3, 6.8, 13.7, 16.6, 11.8, 20.3, 12.9, 15.2, 10.0, 13.9, 17.2, 9.4,
  14.7, 10.3, 12.0, 16.1, 13.6, 7.3, 15.7, 11.9, 19.6, 12.8, 14.4, 10.8, 17.3, 13.3, 9.1, 22.1, 11.5, 15.9, 12.4, 16.8,
  12.1, 15.5, 11.2, 13.9, 18.4, 9.8, 14.6, 12.7, 16.4, 10.5, 13.1, 20.8, 8.7, 15.0, 11.6, 14.2, 17.5, 12.3, 6.0, 13.8,
  17.3, 11.8, 14.4, 10.0, 12.9, 16.2, 9.2, 13.5, 15.3, 12.1, 19.0, 11.0, 14.8, 7.8, 16.9, 13.2, 10.6, 18.1, 12.5, 15.6,
  10.2, 13.7, 16.5, 12.4, 14.9, 8.1, 15.8, 11.5, 13.0, 17.7, 10.9, 14.1, 21.9, 12.6, 9.5, 15.1, 13.4, 11.2, 16.0, 12.8,
  14.3, 12.0, 9.0, 15.9, 11.3, 17.4, 13.6, 10.4, 14.7, 19.2, 12.2, 8.4, 16.1, 13.9, 11.1, 15.4, 7.1, 14.0, 18.0, 12.7,
  13.1, 16.7, 12.3, 10.6, 15.2, 13.8, 11.7, 20.1, 14.5, 9.7, 12.9, 16.3, 11.0, 13.4, 17.0, 8.9, 14.8, 12.1, 15.7, 10.3
];

const sexo = [
  1, 2, 2, 1, 2, 1, 1, 2, 1, 2, 2, 1, 2, 1, 1, 2, 1, 2, 2, 1,
  2, 1, 1, 2, 1, 2, 2, 1, 2, 1, 1, 2, 1, 2, 2, 1, 2, 1, 1, 2,
  1, 1, 2, 2, 1, 2, 1, 1, 2, 2, 1, 2, 2, 1, 2, 1, 1, 2, 1, 2,
  2, 2, 1, 1, 2, 1, 2, 2, 1, 1, 2, 1, 1, 2, 1, 2, 2, 1, 2, 1,
  1, 2, 1, 2, 2, 1, 1, 2, 2, 1, 2, 1, 2, 2, 1, 1, 2, 1, 1, 2,
  2, 1, 2, 1, 1, 2, 2, 1, 2, 2, 1, 1, 2, 1, 2, 2, 1, 2, 1, 1,
  1, 1, 2, 1, 2, 2, 1, 2, 1, 2, 1, 2, 2, 1, 1, 2, 1, 2, 2, 1,
  2, 2, 1, 2, 1, 1, 2, 1, 2, 1, 2, 2, 1, 1, 2, 1, 2, 1, 1, 2,
  1, 2, 2, 1, 1, 2, 1, 2, 2, 1, 2, 1, 1, 2, 1, 2, 2, 1, 2, 1,
  2, 1, 1, 2, 2, 1, 2, 1, 1, 2, 1, 2, 1, 1, 2, 1, 2, 2, 1, 2,
  1, 2, 1, 1, 2, 2, 1, 2, 1, 2, 2, 1, 2, 1, 1, 2, 1, 2, 2, 1,
  2, 1, 2, 2, 1, 1, 2, 1, 2, 1, 1, 2, 1, 2, 2, 1, 2, 1, 1, 2,
  1, 2, 1, 2, 1, 2, 2, 1, 1, 2, 2, 1, 2, 1, 2, 1, 1, 2, 2, 1,
  2, 1, 2, 1, 2, 1, 1, 2, 2, 1, 1, 2, 1, 2, 1, 2, 2, 1, 2, 1,
  1, 1, 2, 2, 1, 2, 1, 2, 1, 1, 2, 2, 1, 2, 2, 1, 1, 2, 1, 2,
  2, 2, 1, 1, 2, 1, 2, 1, 2, 2, 1, 1, 2, 1, 1, 2, 2, 1, 2, 1,
  1, 2, 2, 1, 1, 2, 1, 2, 2, 1, 2, 1, 1, 2, 2, 1, 2, 1, 1, 2,
  2, 1, 1, 2, 2, 1, 2, 1, 1, 2, 2, 1, 2, 1, 1, 2, 1, 2, 2, 1,
  1, 2, 1, 2, 1, 1, 2, 2, 1, 2, 1, 2, 2, 1, 1, 2, 1, 2, 1, 2,
  2, 1, 2, 1, 2, 2, 1, 1, 2, 1, 2, 1, 1, 2, 2, 1, 2, 1, 2, 1,
  1, 2, 1, 2, 1, 2, 2, 1, 2, 1, 1, 1, 2, 2, 1, 2, 1, 2, 2, 1,
  2, 1, 2, 2, 1, 1, 2, 1, 2, 1, 2, 1, 2, 1, 1, 2, 1, 2, 2, 1,
  2, 2, 2, 2, 1, 2, 1, 2, 1, 2, 1, 2, 1, 2, 1, 1, 2, 2, 1, 2,
  1, 1, 1, 2, 2, 1, 2, 1, 1, 2, 1, 1, 2, 1, 2, 2, 2, 2, 1, 2,
  1, 2, 1, 2,
  2, 1, 1, 2, 2, 1, 2, 1, 2, 1, 1, 2, 1, 2, 2, 1, 1, 2, 1, 2,
  1, 2, 2, 1, 1, 2, 1, 2, 1, 2, 2, 1, 2, 1, 1, 2, 2, 1, 2, 1,
  2, 2, 1, 1, 2, 1, 2, 1, 1, 2, 1, 2, 2, 1, 2, 2, 1, 1, 2, 1,
  1, 1, 2, 2, 1, 2, 1, 2, 2, 1, 2, 1, 1, 2, 1, 1, 2, 2, 1, 2,
  2, 1, 2, 1, 1, 2, 2, 1, 2, 1, 2, 2, 1, 1, 2, 1, 2, 1, 2, 1,
  1, 2, 1, 2, 2, 1, 1, 2, 1, 2, 1, 1, 2, 2, 1, 2, 1, 2, 1, 2,
  2, 1, 1, 2, 1, 2, 2, 1, 2, 1, 2, 1, 2, 1, 1, 2, 2, 1, 1, 2,
  1, 2, 2, 1, 2, 1, 1, 2, 1, 2, 1, 2, 1, 2, 2, 1, 1, 2, 2, 1,
  2, 2, 1, 2, 1, 1, 2, 1, 2, 1, 2, 1, 1, 2, 1, 2, 1, 2, 1, 2,
  1, 1, 2, 1, 2, 2, 1, 2, 1, 2, 1, 2, 2, 1, 2, 1, 2, 1, 2, 1,
  2, 1, 2, 2, 1, 1, 2, 1, 1, 2, 2, 1, 2, 1, 2, 2, 1, 1, 2, 1,
  1, 2, 1, 1, 2, 2, 1, 2, 2, 1, 1, 2, 1, 2, 1, 1, 2, 2, 1, 2,
  2, 1, 2, 1, 2, 1, 1, 2, 1, 2, 2, 1, 2, 2, 1, 2, 1, 1, 2, 1,
  1, 2, 1, 2, 1, 2, 2, 1, 2, 1, 1, 2, 1, 1, 2, 1, 2, 2, 1, 2,
  2, 2, 1, 1, 2, 1, 2, 2, 1, 2, 1, 1, 2, 1, 2, 2, 1, 2, 1, 1,
  1, 1, 2, 2, 1, 2, 1, 1, 2, 1, 2, 2, 1, 2, 1, 1, 2, 1, 2, 2,
  2, 1, 1, 2, 2, 1, 2, 2, 1, 2, 1, 2, 1, 1, 2, 1, 2, 1, 1, 2,
  1, 2, 2, 1, 1, 2, 1, 1, 2, 1, 2, 1, 2, 2, 1, 2, 1, 2, 2, 1,
  2, 1, 2, 1, 2, 2, 1, 2, 1, 1, 2, 1, 2, 1, 2, 1, 1, 2, 1, 2,
  1, 2, 1, 2, 1, 1, 2, 1, 2, 2, 1, 2, 1, 2, 1, 2, 2, 1, 2, 1
];

const varNames = ['colesterol', 'trigliceridos', 'proteina', 'bun', 'sexo'];

// tick positions and the labels R kept on each side
const colesterolTicks = [315, 316, 317, 318, 319, 320, 321];
const colesterolBottomLabels = [315, 317, 319, 321];
const colesterolRightLabels = [315, 319];
const trigliceridosTicks = [647, 648, 649, 650, 651, 652, 653];
const trigliceridosTopLabels = [647, 649, 651, 653];
const trigliceridosLeftLabels = [647, 650, 653];
const proteinaTicks = [0, 10, 20, 30];
const proteinaBottomLabels = [0, 10, 20, 30];
const proteinaRightLabels = [0, 20];
const bunTicks = [0, 5, 10, 15, 20, 25, 30, 35];
const bunTopLabels = [0, 10, 20, 30];
const bunLeftLabels = [0, 10, 25];
const sexoTicks = [1, 1.2, 1.4, 1.6, 1.8, 2];
const sexoBottomLabels = [1, 1.4, 1.8];
const sexoRightLabels = [1, 1.4, 1.8];

const columns = [colesterol, trigliceridos, proteina, bun, sexo];
const nVar = columns.length;
const nObs = d3.min(columns, c => c.length);

const svg = d3.select('#chart');
const left0 = 114, top0 = 114;
const panelW = 202, panelH = 126;
const stepX = 228, stepY = 151;
const lineW = 1.8;

// R style range: data extent padded by 4% on each side
function paddedExtent(values) {
    const [lo, hi] = d3.extent(values);
    const pad = (hi - lo) * 0.04;
    return [lo - pad, hi + pad];
}

const xScales = columns.map((vals, j) => d3.scaleLinear()
    .domain(paddedExtent(vals))
    .range([left0 + j * stepX, left0 + j * stepX + panelW]));

const yScales = columns.map((vals, i) => d3.scaleLinear()
    .domain(paddedExtent(vals))
    .range([top0 + i * stepY + panelH, top0 + i * stepY]));

const rows = d3.range(nObs);

for (let i = 0; i < nVar; i++) {
    for (let j = 0; j < nVar; j++) {
        const px = left0 + j * stepX, py = top0 + i * stepY;

        if (i === j) {
            svg.append('text')
                .attr('x', px + panelW / 2)
                .attr('y', py + panelH / 2 + 13)
                .attr('text-anchor', 'middle')
                .attr('font-size', 36)
                .text(varNames[i]);
        } else {
            svg.append('g')
                .selectAll('circle')
                .data(rows)
                .join('circle')
                .attr('cx', k => xScales[j](columns[j][k]))
                .attr('cy', k => yScales[i](columns[i][k]))
                .attr('r', 3.6)
                .attr('fill', 'none')
                .attr('stroke', '#000')
                .attr('stroke-width', 2);
        }

        svg.append('rect')
            .attr('x', px)
            .attr('y', py)
            .attr('width', panelW)
            .attr('height', panelH)
            .attr('fill', 'none')
            .attr('stroke', '#000')
            .attr('stroke-width', lineW);
    }
}

function drawAxis(side, scale, ticks, labels, fmt, tx, ty) {
    const gen = { top: d3.axisTop, bottom: d3.axisBottom, left: d3.axisLeft, right: d3.axisRight }[side];
    const g = svg.append('g')
        .attr('transform', `translate(${tx},${ty})`)
        .call(gen(scale)
            .tickValues(ticks)
            .tickSize(13)
            .tickFormat(d => labels.includes(d) ? fmt(d) : ''));

    g.select('.domain').remove();
    g.selectAll('.tick line').attr('stroke', '#000').attr('stroke-width', lineW);

    const txt = g.selectAll('.tick text')
        .attr('font-size', 21)
        .attr('fill', '#000')
        .attr('dy', null)
        .attr('text-anchor', 'middle');

    if (side === 'top') txt.attr('y', -31);
    if (side === 'bottom') txt.attr('y', 47.5);
    if (side === 'left') txt.attr('x', 0).attr('y', 0).attr('transform', 'translate(-31,0) rotate(-90)');
    if (side === 'right') txt.attr('x', 0).attr('y', 0).attr('transform', 'translate(48,0) rotate(-90)');
}

const intFmt = d3.format('d');
const oneDec = d3.format('.1f');
const lastTop = top0 + (nVar - 1) * stepY + panelH;
const lastLeft = left0 + (nVar - 1) * stepX + panelW;

// top: trigliceridos, bun
drawAxis('top', xScales[1], trigliceridosTicks, trigliceridosTopLabels, intFmt, 0, top0);
drawAxis('top', xScales[3], bunTicks, bunTopLabels, intFmt, 0, top0);
// bottom: colesterol, proteina, sexo
drawAxis('bottom', xScales[0], colesterolTicks, colesterolBottomLabels, intFmt, 0, lastTop);
drawAxis('bottom', xScales[2], proteinaTicks, proteinaBottomLabels, intFmt, 0, lastTop);
drawAxis('bottom', xScales[4], sexoTicks, sexoBottomLabels, oneDec, 0, lastTop);
// left: trigliceridos, bun
drawAxis('left', yScales[1], trigliceridosTicks, trigliceridosLeftLabels, intFmt, left0, 0);
drawAxis('left', yScales[3], bunTicks, bunLeftLabels, intFmt, left0, 0);
// right: colesterol, proteina, sexo
drawAxis('right', yScales[0], colesterolTicks, colesterolRightLabels, intFmt, lastLeft, 0);
drawAxis('right', yScales[2], proteinaTicks, proteinaRightLabels, intFmt, lastLeft, 0);
drawAxis('right', yScales[4], sexoTicks, sexoRightLabels, oneDec, lastLeft, 0);
</script>
</body>
</html>
